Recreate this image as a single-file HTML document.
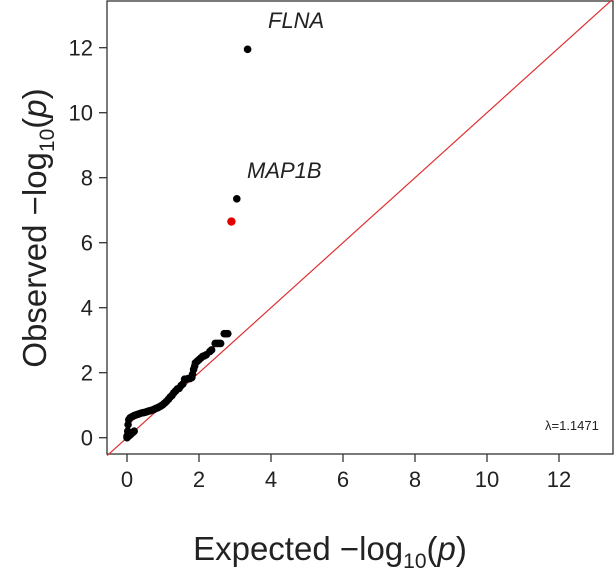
<!DOCTYPE html>
<html><head><meta charset="utf-8"><style>body{margin:0;background:#fff}svg{font-family:"Liberation Sans",sans-serif}</style></head>
<body>
<svg id="chart" width="615" height="571">
<rect x="107" y="1" width="506" height="453" fill="none" stroke="#333" stroke-width="1.3"/>
<g id="axes"></g>
<line id="diag" stroke="#e03030" stroke-width="1.2"/>
<g id="pts"></g>
<text x="268" y="28" font-size="22" font-style="italic" fill="#222">FLNA</text>
<text x="247" y="178" font-size="22" font-style="italic" fill="#222">MAP1B</text>
<text x="545" y="430" font-size="13" fill="#222">λ=1.1471</text>
<text x="330" y="560" font-size="33" text-anchor="middle" fill="#222">Expected −log<tspan font-size="21" dy="8">10</tspan><tspan dy="-8">(</tspan><tspan font-style="italic">p</tspan>)</text>
<text transform="translate(46,228) rotate(-90)" font-size="33" text-anchor="middle" fill="#222">Observed −log<tspan font-size="21" dy="8">10</tspan><tspan dy="-8">(</tspan><tspan font-style="italic">p</tspan>)</text>
</svg>
<script>
const xTicks=[0,2,4,6,8,10,12];
const yTicks=[0,2,4,6,8,10,12];
const expected=[0,0,0.02,0.03,0.05,0.08,0.1,0.15,0.2,0.25,0.3,0.35,0.4,0.45,0.5,0.55,0.6,0.65,0.7,0.75,0.8,0.85,0.9,0.95,1.0,1.05,1.1,1.15,1.2,1.25,1.3,1.35,1.4,1.45,1.5,1.55,1.6,1.65,1.7,1.75,1.8,1.82,1.85,1.88,1.9,1.95,2.0,2.05,2.1,2.15,2.2,2.3,2.35,2.45,2.5,2.55,2.6,2.7,2.75,2.8,0.05,0.1,0.15,0.2,3.05,3.35];
const observed=[0,0.05,0.2,0.4,0.55,0.6,0.62,0.65,0.68,0.7,0.72,0.74,0.76,0.77,0.78,0.8,0.82,0.83,0.85,0.87,0.9,0.92,0.95,0.98,1.02,1.07,1.12,1.18,1.25,1.3,1.38,1.44,1.5,1.52,1.6,1.65,1.8,1.8,1.82,1.82,1.85,1.95,2.1,2.2,2.3,2.35,2.4,2.45,2.5,2.52,2.55,2.65,2.7,2.9,2.9,2.9,2.9,3.2,3.2,3.2,0.05,0.1,0.15,0.2,7.35,11.95];
const highlightE=[2.9];const highlightO=[6.65];
const X=v=>127+v*36, Y=v=>437.7-v*32.5;
const ns="http://www.w3.org/2000/svg";
const ax=document.getElementById('axes');
function mk(t,a,p){const e=document.createElementNS(ns,t);for(const k in a)e.setAttribute(k,a[k]);(p||ax).appendChild(e);return e;}
xTicks.forEach(v=>{
 const l=mk('line',{x1:X(v),x2:X(v),y1:454,y2:462,stroke:'#333','stroke-width':1.3});
 
 
 const t=mk('text',{x:X(v),y:487,'font-size':22,'text-anchor':'middle',fill:'#222'});t.textContent=v;
 
 
});
yTicks.forEach(v=>{
 const l=mk('line',{x1:99,x2:107,y1:Y(v),y2:Y(v),stroke:'#333','stroke-width':1.3});
 
 
 const t=mk('text',{x:93,y:Y(v)+8,'font-size':22,'text-anchor':'end',fill:'#222'});t.textContent=v;
 
 
});
const d=document.getElementById('diag');
d.setAttribute('x1',X(-0.55));d.setAttribute('y1',Y(-0.55));d.setAttribute('x2',X(13.5));d.setAttribute('y2',Y(13.5));
const pg=document.getElementById('pts');
expected.forEach((e,i)=>{const c=mk('circle',{cx:X(e),cy:Y(observed[i]),r:3.8,fill:'#000'},pg);
 
 });
highlightE.forEach((e,i)=>{const c=mk('circle',{cx:X(e),cy:Y(highlightO[i]),r:4.2,fill:'#e00000'},pg);
 
 });
</script>
</body></html>
